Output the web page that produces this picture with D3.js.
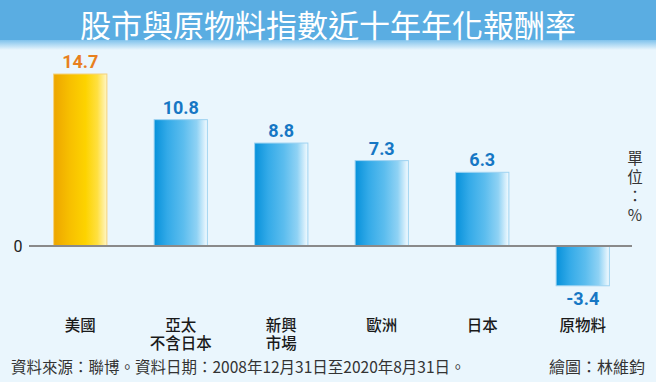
<!DOCTYPE html>
<html>
<head>
<meta charset="utf-8">
<script src="https://cdn.jsdelivr.net/npm/d3@7"></script>
<style>
  body { margin: 0; background: #eaf6fd; }
  svg { display: block; }
  text { font-family: "Noto Sans CJK TC", "Noto Sans", sans-serif; }
  .value { font-family: Roboto, "Liberation Sans", sans-serif; font-weight: bold; font-size: 18px; }
</style>
</head>
<body>
<svg id="chart" width="656" height="382"></svg>
<script>
// data
var categories = ["美國", "亞太|不含日本", "新興|市場", "歐洲", "日本", "原物料"];
var returns = [14.7, 10.8, 8.8, 7.3, 6.3, -3.4];
var titleText = "股市與原物料指數近十年年化報酬率";
var sourceText = "資料來源：聯博。資料日期：2008年12月31日至2020年8月31日。";
var creditText = "繪圖：林維鈞";
var unitChars = ["單", "位", "：", "%"];

var W = 656, H = 382;
var svg = d3.select("#chart");

var defs = svg.append("defs");

// title band fade
var fade = defs.append("linearGradient").attr("id", "fade")
    .attr("x1", 0).attr("y1", 0).attr("x2", 0).attr("y2", 1);
fade.append("stop").attr("offset", "0%").attr("stop-color", "#7fc2ec");
fade.append("stop").attr("offset", "100%").attr("stop-color", "#eaf6fd");

// bar gradients (left dark -> right white)
function barGrad(id, stops) {
    var g = defs.append("linearGradient").attr("id", id)
        .attr("x1", 0).attr("y1", 0).attr("x2", 1).attr("y2", 0);
    stops.forEach(function (s) {
        g.append("stop").attr("offset", s[0]).attr("stop-color", s[1]);
    });
}
barGrad("blueBar", [["0%", "#0791da"], ["25%", "#33aae8"], ["55%", "#5cbdee"], ["80%", "#8fd2f4"], ["100%", "#f4fbff"]]);
barGrad("goldBar", [["0%", "#eda500"], ["30%", "#f7bf00"], ["60%", "#fdd300"], ["82%", "#ffe040"], ["100%", "#fff6c8"]]);

svg.append("rect").attr("width", W).attr("height", H).attr("fill", "#eaf6fd");

// title band
svg.append("rect").attr("x", 0).attr("y", 0).attr("width", W).attr("height", 40).attr("fill", "#5aade2");
svg.append("rect").attr("x", 0).attr("y", 40).attr("width", W).attr("height", 10).attr("fill", "url(#fade)");
svg.append("text")
    .attr("x", W / 2)
    .attr("y", 37)
    .attr("text-anchor", "middle")
    .attr("fill", "#ffffff")
    .style("font-size", "31px")
    .text(titleText);

// scales
var x = d3.scaleBand()
    .domain(categories)
    .range([30, 633])
    .paddingInner(0.47)
    .paddingOuter(0.235);

var y = d3.scaleLinear()
    .domain([-4, 15])
    .range([246 + 4 * 11.7, 246 - 15 * 11.7]);

// bars
svg.selectAll(".bar")
    .data(returns)
    .enter()
    .append("rect")
    .attr("class", "bar")
    .attr("x", (d, i) => x(categories[i]))
    .attr("y", d => y(Math.max(0, d)))
    .attr("width", x.bandwidth())
    .attr("height", d => Math.abs(y(d) - y(0)))
    .attr("fill", (d, i) => i === 0 ? "url(#goldBar)" : "url(#blueBar)")
    .attr("stroke", (d, i) => i === 0 ? "#f5d27a" : "#9fd3f1")
    .attr("stroke-width", 1);

// zero line
svg.append("line")
    .attr("x1", 29).attr("x2", 632)
    .attr("y1", y(0)).attr("y2", y(0))
    .attr("stroke", "#8a8a8a")
    .attr("stroke-width", 2);

svg.append("text")
    .attr("x", 18)
    .attr("y", y(0) + 6)
    .attr("text-anchor", "middle")
    .attr("fill", "#222")
    .style("font-family", "Roboto, 'Liberation Sans', sans-serif")
    .style("font-size", "16px")
    .text(0);

// value labels
svg.selectAll(".value")
    .data(returns)
    .enter()
    .append("text")
    .attr("class", "value")
    .attr("x", (d, i) => x(categories[i]) + x.bandwidth() / 2)
    .attr("y", d => d >= 0 ? y(d) - 6 : y(d) + 19)
    .attr("text-anchor", "middle")
    .attr("fill", (d, i) => i === 0 ? "#e8801e" : "#1677c4")
    .text(d => d.toFixed(1));

// category labels (two lines where needed)
var cat = svg.selectAll(".cat")
    .data(categories)
    .enter()
    .append("text")
    .attr("class", "cat")
    .attr("text-anchor", "middle")
    .attr("fill", "#1a1a1a")
    .style("font-size", "15.5px")
    .style("font-weight", 500);
cat.each(function (d) {
    var t = d3.select(this);
    var cx = x(d) + x.bandwidth() / 2;
    d.split("|").forEach(function (line, j) {
        t.append("tspan")
            .attr("x", cx)
            .attr("y", 331 + j * 18)
            .text(line);
    });
});

// unit label, vertical
svg.selectAll(".unit")
    .data(unitChars)
    .enter()
    .append("text")
    .attr("class", "unit")
    .attr("x", 635)
    .attr("y", (d, i) => 164 + i * 19)
    .attr("text-anchor", "middle")
    .attr("fill", "#333")
    .style("font-size", "15.5px")
    .text(d => d);

// footer
svg.append("text")
    .attr("x", 11)
    .attr("y", 373)
    .attr("fill", "#333")
    .style("font-size", "15.5px")
    .text(sourceText);

svg.append("text")
    .attr("x", 645)
    .attr("y", 373)
    .attr("text-anchor", "end")
    .attr("fill", "#333")
    .style("font-size", "16px")
    .text(creditText);
</script>
</body>
</html>
